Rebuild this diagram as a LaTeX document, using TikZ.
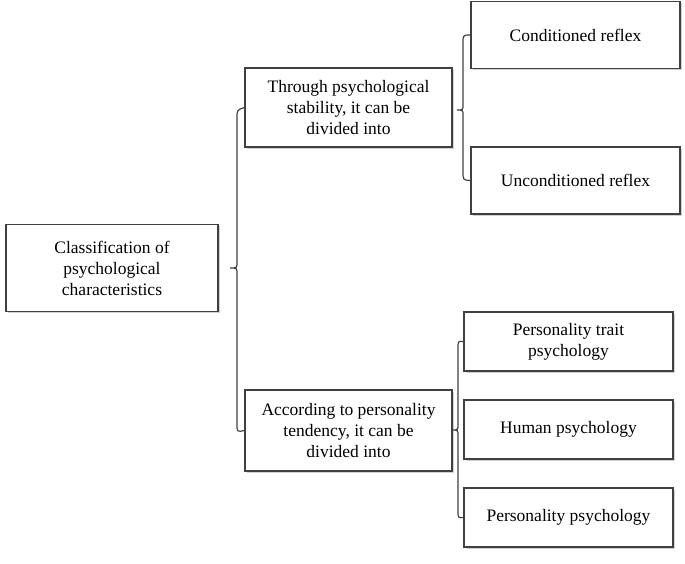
\documentclass[tikz,border=0pt]{standalone}
\usepackage{fontspec}
\setmainfont{Liberation Serif}
\usetikzlibrary{shadows}
\begin{document}
\begin{tikzpicture}[x=1pt,y=-1pt,
  box/.style={draw=black!75,line width=1.2pt,fill=white,align=center,inner sep=0pt,
    font=\fontsize{17.5}{21}\selectfont,
    drop shadow={shadow xshift=1.5pt,shadow yshift=-1.5pt,fill=black!30,opacity=0.6}},
  brace/.style={draw=black!75,line width=1.2pt}]
\useasboundingbox (0,0) rectangle (685,563);
\node[box,minimum width=212,minimum height=87] (root) at (112,268) {Classification of\\psychological\\characteristics};
\node[box,minimum width=207,minimum height=79] (a) at (348.5,107.5) {Through psychological\\stability, it can be\\divided into};
\node[box,minimum width=207,minimum height=81] (b) at (348.5,430.5) {According to personality\\tendency, it can be\\divided into};
\node[box,minimum width=209,minimum height=67] (c1) at (575.5,35) {Conditioned reflex};
\node[box,minimum width=209,minimum height=67] (c2) at (575.5,180.5) {Unconditioned reflex};
\node[box,minimum width=209,minimum height=59] (d1) at (568.5,341.5) {Personality trait\\psychology};
\node[box,minimum width=209,minimum height=59] (d2) at (568.5,429.5) {Human psychology};
\node[box,minimum width=209,minimum height=59] (d3) at (568.5,517.5) {Personality psychology};
% braces
\draw[brace] (a.west) .. controls (237,110) and (237,110) .. (237,118) -- (237,262)
  .. controls (237,268) .. (230,268) .. controls (237,268) .. (237,274) -- (237,424)
  .. controls (237,432) and (237,432) .. (b.west);
\draw[brace] (c1.west) .. controls (463,35) and (463,35) .. (463,43) -- (463,104)
  .. controls (463,110) .. (457,110) .. controls (463,110) .. (463,116) -- (463,172)
  .. controls (463,180) and (463,180) .. (c2.west);
\draw[brace] (d1.west) .. controls (458,341) and (458,341) .. (458,349) -- (458,424)
  .. controls (458,430) .. (452,430) .. controls (458,430) .. (458,436) -- (458,510)
  .. controls (458,518) and (458,518) .. (d3.west);
\end{tikzpicture}
\end{document}
